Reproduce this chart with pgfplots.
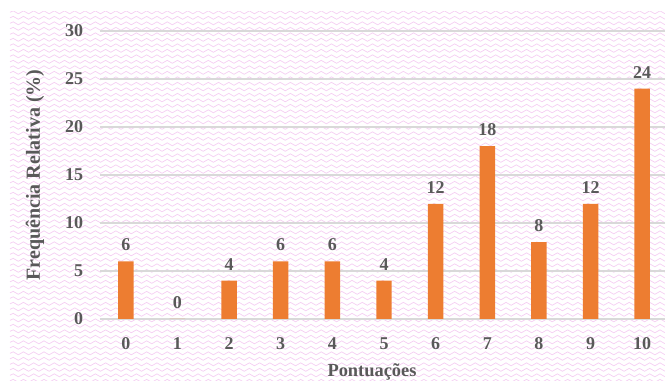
\documentclass[border=0pt]{standalone}
\usepackage{pgfplots}
\pgfplotsset{compat=1.18}
\usepackage{fontspec}
\setmainfont{Liberation Serif}
\usetikzlibrary{decorations.pathmorphing}
\definecolor{barorange}{HTML}{ED7D31}
\definecolor{txtgray}{HTML}{595959}
\definecolor{gridgray}{HTML}{D9D9D9}
\definecolor{wavepink}{RGB}{245,208,243}
\begin{document}
\begin{tikzpicture}
\path[use as bounding box] (0,0) rectangle (498.75pt,285.75pt);
\clip (0,0) rectangle (498.75pt,285.75pt);
% background wave pattern
\foreach \k in {0,...,67}{
  \draw[wavepink, line width=0.55pt, decorate, decoration={snake, segment length=7.7pt, amplitude=1.1pt}]
    (7.5pt,{276.5pt-\k*4.125pt}) -- (505pt,{276.5pt-\k*4.125pt});
}
\fill[white] (0,277.5pt) rectangle (498.75pt,285.75pt);
\fill[white] (0,0) rectangle (6.5pt,285.75pt);
\begin{axis}[
  at={(75pt,46.5pt)}, anchor=south west,
  scale only axis, width=426pt, height=216pt,
  xmin=-0.5, xmax=10.5, ymin=0, ymax=30,
  xtick={0,...,10}, ytick={0,5,...,30},
  axis line style={draw=none},
  major tick length=0pt,
  ymajorgrids, grid style={gridgray, line width=0.8pt},
  /pgf/number format/assume math mode=true,
  ticklabel style={font=\fontsize{13.5pt}{15pt}\selectfont\bfseries, text=txtgray, inner sep=0pt},
  yticklabel style={anchor=east, xshift=-12.5pt},
  xticklabel style={anchor=north, yshift=-13.5pt},
  clip=false,
  ybar, bar width=11.6pt,
  nodes near coords,
  every node near coord/.append style={font=\fontsize{13.5pt}{15pt}\selectfont\bfseries, text=txtgray, inner sep=0pt, anchor=south, yshift=7.5pt},
]
\addplot[fill=barorange, draw=none] coordinates {
(0,6) (1,0) (2,4) (3,6) (4,6) (5,4) (6,12) (7,18) (8,8) (9,12) (10,24)};
\end{axis}
\node[rotate=90, anchor=base, text=txtgray, font=\fontsize{15pt}{17pt}\selectfont\bfseries] at (30pt,154.5pt) {Frequência Relativa (\%)};
\node[anchor=base, text=txtgray, font=\fontsize{13.8pt}{16pt}\selectfont\bfseries] at (279pt,3.6pt) {Pontuações};
\end{tikzpicture}
\end{document}
